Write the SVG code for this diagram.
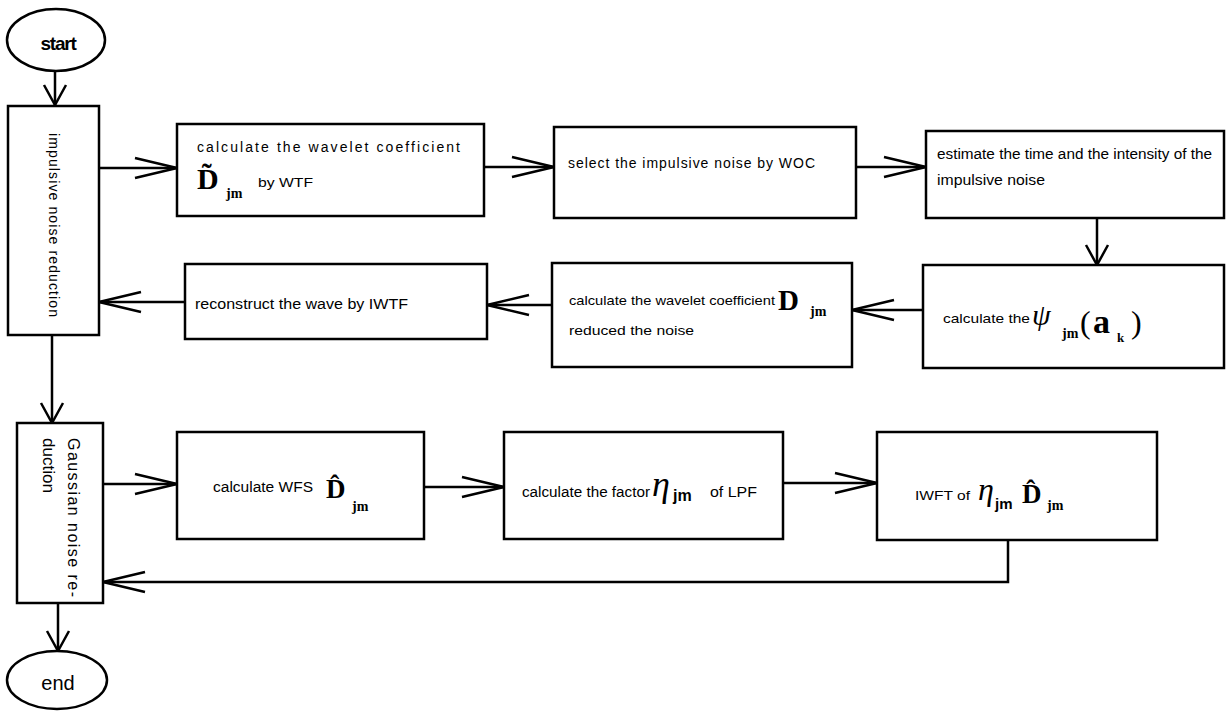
<svg xmlns="http://www.w3.org/2000/svg" width="1227" height="716" viewBox="0 0 1227 716">
<style>
.box{fill:#fff;stroke:#000;stroke-width:2.5}
.ln{fill:none;stroke:#000;stroke-width:2.5}
.t{font-family:"Liberation Sans",Arial,sans-serif;font-size:13.5px;fill:#000}
.m{font-family:"Liberation Serif","Times New Roman",serif;font-weight:bold;fill:#000}
.mi{font-family:"Liberation Serif","Times New Roman",serif;font-style:italic;fill:#000}
</style>
<defs>
<marker id="ah" markerUnits="userSpaceOnUse" viewBox="-44 -13 46 26" markerWidth="46" markerHeight="26" refX="0" refY="0" orient="auto">
<path d="M-42,-10 L0,0 L-42,10" fill="none" stroke="#000" stroke-width="2.5"/>
</marker>
<marker id="av" markerUnits="userSpaceOnUse" viewBox="-24 -14 26 28" markerWidth="26" markerHeight="28" refX="0" refY="0" orient="auto">
<path d="M-20,-11 L0,0 L-20,11" fill="none" stroke="#000" stroke-width="2.5"/>
</marker>
</defs>
<rect width="1227" height="716" fill="#fff"/>

<g id="connectors">
<line class="ln" x1="55" y1="71" x2="55" y2="105" marker-end="url(#av)"/>
<line class="ln" x1="99" y1="168" x2="177" y2="168" marker-end="url(#ah)"/>
<line class="ln" x1="484" y1="167" x2="554" y2="167" marker-end="url(#ah)"/>
<line class="ln" x1="856" y1="167" x2="926" y2="167" marker-end="url(#ah)"/>
<line class="ln" x1="1097" y1="218" x2="1097" y2="265" marker-end="url(#av)"/>
<line class="ln" x1="923" y1="310" x2="852" y2="310" marker-end="url(#ah)"/>
<line class="ln" x1="552" y1="305" x2="487" y2="305" marker-end="url(#ah)"/>
<line class="ln" x1="185" y1="302" x2="99" y2="302" marker-end="url(#ah)"/>
<line class="ln" x1="52" y1="335" x2="52" y2="423" marker-end="url(#av)"/>
<line class="ln" x1="103" y1="484" x2="177" y2="484" marker-end="url(#ah)"/>
<line class="ln" x1="424" y1="487" x2="504" y2="487" marker-end="url(#ah)"/>
<line class="ln" x1="783" y1="483" x2="877" y2="483" marker-end="url(#ah)"/>
<polyline class="ln" points="1008,540 1008,582 103,582" marker-end="url(#ah)"/>
<line class="ln" x1="58" y1="603" x2="58" y2="651" marker-end="url(#av)"/>
</g>

<g id="start">
<ellipse class="box" cx="56" cy="40" rx="49" ry="31"/>
<text class="t" x="58" y="50" text-anchor="middle" style="font-size:19px;font-weight:bold;letter-spacing:-1.2px">start</text>
</g>

<g id="impulsive">
<rect class="box" x="8" y="106" width="91" height="229"/>
<text class="t" transform="translate(49,133) rotate(90)" x="0" y="0" textLength="184" lengthAdjust="spacing" style="font-size:14px">impulsive noise reduction</text>
</g>

<g id="wavelet">
<rect class="box" x="177" y="124" width="307" height="92"/>
<text class="t" x="197" y="152" textLength="263" lengthAdjust="spacing" style="font-size:14px">calculate the wavelet coefficient</text>
<text class="m" x="197" y="189" style="font-size:30px">D&#771;</text>
<text class="m" x="226" y="198" style="font-size:14px">jm</text>
<text class="t" x="258" y="187" textLength="55" lengthAdjust="spacingAndGlyphs" style="font-size:13px">by WTF</text>
</g>

<g id="select">
<rect class="box" x="554" y="127" width="302" height="91"/>
<text class="t" x="568" y="168" textLength="247" lengthAdjust="spacing" style="font-size:14px">select the impulsive noise by WOC</text>
</g>

<g id="estimate">
<rect class="box" x="926" y="131" width="298" height="87"/>
<text class="t" x="937" y="159" textLength="275" lengthAdjust="spacingAndGlyphs" style="font-size:14px">estimate the time and the intensity of the</text>
<text class="t" x="937" y="185" textLength="108" lengthAdjust="spacingAndGlyphs" style="font-size:14px">impulsive noise</text>
</g>

<g id="psi">
<rect class="box" x="923" y="265" width="301" height="103"/>
<text class="t" x="943" y="323" textLength="87" lengthAdjust="spacingAndGlyphs">calculate the</text>
<text class="mi" x="1032" y="325" style="font-size:30px">ψ</text>
<text class="m" x="1062" y="338" style="font-size:14px">jm</text>
<text class="mi" x="1080" y="333" style="font-size:32px;font-style:normal">(</text>
<text class="m" x="1093" y="333" style="font-size:34px">a</text>
<text class="m" x="1117" y="342" style="font-size:13px">k</text>
<text class="mi" x="1131" y="333" style="font-size:32px;font-style:normal">)</text>
</g>

<g id="reduced">
<rect class="box" x="552" y="263" width="300" height="104"/>
<text class="t" x="569" y="305" textLength="206" lengthAdjust="spacingAndGlyphs">calculate the wavelet coefficient</text>
<text class="m" x="778" y="310" style="font-size:29px">D</text>
<text class="m" x="810" y="316" style="font-size:14px">jm</text>
<text class="t" x="569" y="335" textLength="125" lengthAdjust="spacingAndGlyphs">reduced the noise</text>
</g>

<g id="reconstruct">
<rect class="box" x="185" y="264" width="302" height="75"/>
<text class="t" x="195" y="309" textLength="213" lengthAdjust="spacingAndGlyphs" style="font-size:14px">reconstruct the wave by IWTF</text>
</g>

<g id="gaussian">
<rect class="box" x="17" y="423" width="86" height="180"/>
<text class="t" transform="translate(68,438) rotate(90)" x="0" y="0" textLength="159" lengthAdjust="spacing" style="font-size:16px">Gaussian noise re-</text>
<text class="t" transform="translate(43,438) rotate(90)" x="0" y="0" textLength="55" lengthAdjust="spacingAndGlyphs" style="font-size:16px">duction</text>
</g>

<g id="wfs">
<rect class="box" x="177" y="432" width="247" height="107"/>
<text class="t" x="213" y="492" textLength="100" lengthAdjust="spacingAndGlyphs" style="font-size:14px">calculate WFS</text>
<text class="m" x="326" y="498" style="font-size:27px">D&#770;</text>
<text class="m" x="352" y="511" style="font-size:14px">jm</text>
</g>

<g id="factor">
<rect class="box" x="504" y="432" width="279" height="107"/>
<text class="t" x="522" y="497" textLength="128" lengthAdjust="spacingAndGlyphs" style="font-size:14px">calculate the factor</text>
<text class="mi" x="652" y="496" style="font-size:36px">η</text>
<text class="t" x="673" y="501" style="font-size:16px;font-weight:bold">jm</text>
<text class="t" x="710" y="497" textLength="47" lengthAdjust="spacingAndGlyphs" style="font-size:14px">of LPF</text>
</g>

<g id="iwft">
<rect class="box" x="877" y="432" width="280" height="108"/>
<text class="t" x="915" y="500" textLength="55" lengthAdjust="spacingAndGlyphs" style="font-size:13px">IWFT of</text>
<text class="mi" x="978" y="500" style="font-size:32px">η</text>
<text class="t" x="995" y="509" style="font-size:15px;font-weight:bold">jm</text>
<text class="m" x="1022" y="503" style="font-size:27px">D&#770;</text>
<text class="m" x="1047" y="510" style="font-size:14px">jm</text>
</g>

<g id="end">
<ellipse class="box" cx="57" cy="680" rx="50" ry="29"/>
<text class="t" x="58" y="690" text-anchor="middle" style="font-size:20px">end</text>
</g>
</svg>
